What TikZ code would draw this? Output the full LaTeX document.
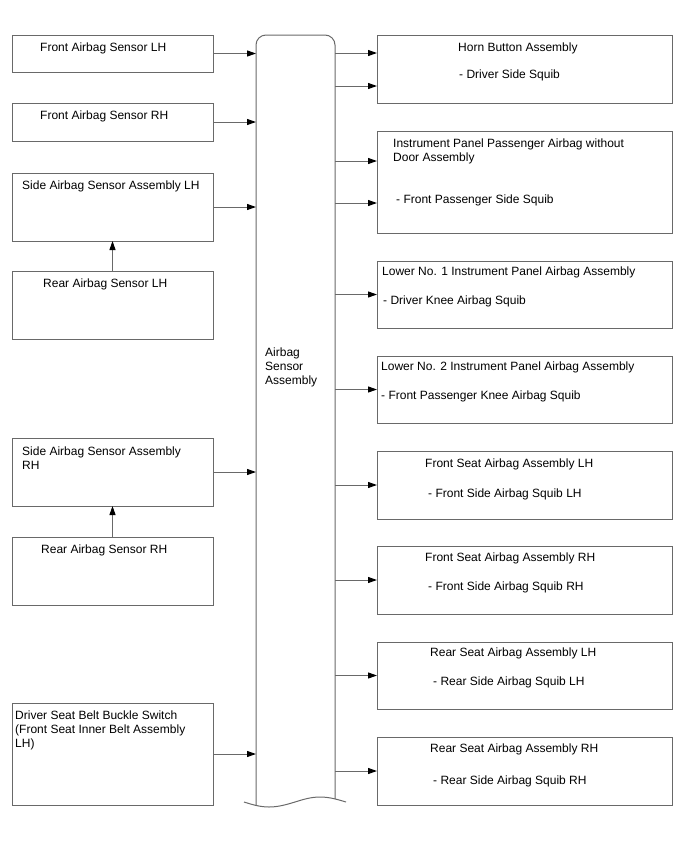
\documentclass[tikz,border=0pt]{standalone}
\usepackage{fontspec}
\setmainfont{Liberation Sans}
\usetikzlibrary{arrows.meta}
\definecolor{ln}{RGB}{105,105,105}
\begin{document}
\begin{tikzpicture}[x=1pt,y=-1pt,
  bx/.style={draw=ln, line width=1pt, rectangle, inner sep=0pt, outer sep=0pt},
  tx/.style={inner sep=0pt, anchor=base west, font=\fontsize{12}{14}\selectfont},
  arr/.style={draw=ln, line width=1pt, -{Triangle[length=9pt,width=6pt,fill=black,color=black]}},
  lbox/.style={bx, minimum width=201pt},
  rbox/.style={bx, minimum width=295pt}]
\fill[white] (0,0) rectangle (688,852);
\useasboundingbox (0,0) rectangle (688,852);

% left boxes
\node[lbox, minimum height=37pt] (falh) at (112.5,53.5) {};
\node[lbox, minimum height=38pt] (farh) at (112.5,122) {};
\node[lbox, minimum height=68pt] (slh) at (112.5,207) {};
\node[lbox, minimum height=68pt] (rlh) at (112.5,305) {};
\node[lbox, minimum height=68pt] (srh) at (112.5,472) {};
\node[lbox, minimum height=68pt] (rrh) at (112.5,571) {};
\node[lbox, minimum height=102pt] (dsb) at (112.5,754) {};

% right boxes
\node[rbox, minimum height=68pt] (horn) at (524.5,69) {};
\node[rbox, minimum height=102pt] (ipp) at (524.5,182) {};
\node[rbox, minimum height=67pt] (lo1) at (524.5,294.5) {};
\node[rbox, minimum height=67pt] (lo2) at (524.5,389.5) {};
\node[rbox, minimum height=68pt] (fsl) at (524.5,485) {};
\node[rbox, minimum height=68pt] (fsr) at (524.5,580) {};
\node[rbox, minimum height=67pt] (rsl) at (524.5,675.5) {};
\node[rbox, minimum height=68pt] (rsr) at (524.5,771) {};

% central assembly
\node[inner sep=0pt, outer sep=0pt, minimum width=79pt, minimum height=770pt] (asa) at (295.5,420) {};
\draw[draw=ln, line width=1pt, rounded corners=10pt] (256,805.4) -- (256,35) -- (335,35) -- (335,798.9);
\draw[draw=ln, line width=1pt] (244,802) sin (269,807) cos (295,802) sin (320,797) cos (346,802);

% texts left
\node[tx] (t1) at (40,51.5) {Front Airbag Sensor LH};
\node[tx] (t2) at (40,119.5) {Front Airbag Sensor RH};
\node[tx] (t3) at (22,189.5) {Side Airbag Sensor Assembly LH};
\node[tx] (t4) at (43,287.5) {Rear Airbag Sensor LH};
\node[tx] (t5a) at (22,455.5) {Side Airbag Sensor Assembly};
\node[tx] (t5b) at (22,469.5) {RH};
\node[tx] (t6) at (41,553.5) {Rear Airbag Sensor RH};
\node[tx] (t7a) at (15,719.5) {Driver Seat Belt Buckle Switch};
\node[tx] (t7b) at (15,733.5) {(Front Seat Inner Belt Assembly};
\node[tx] (t7c) at (15,747.5) {LH)};

% central text
\node[tx] (c1) at (265,356.5) {Airbag};
\node[tx] (c2) at (265,370.5) {Sensor};
\node[tx] (c3) at (265,384.5) {Assembly};

% texts right
\node[tx] (r1a) at (458,51.5) {Horn Button Assembly};
\node[tx] (r1b) at (459,78.5) {- Driver Side Squib};
\node[tx] (r2a) at (393,147.5) {Instrument Panel Passenger Airbag without};
\node[tx] (r2b) at (393,161.5) {Door Assembly};
\node[tx] (r2c) at (396,203.5) {- Front Passenger Side Squib};
\node[tx] (r3a) at (382,275.5) {Lower No. 1 Instrument Panel Airbag Assembly};
\node[tx] (r3b) at (383,304.5) {- Driver Knee Airbag Squib};
\node[tx] (r4a) at (381,370.5) {Lower No. 2 Instrument Panel Airbag Assembly};
\node[tx] (r4b) at (381,399.5) {- Front Passenger Knee Airbag Squib};
\node[tx] (r5a) at (425,467.5) {Front Seat Airbag Assembly LH};
\node[tx] (r5b) at (428,497.5) {- Front Side Airbag Squib LH};
\node[tx] (r6a) at (425,561.5) {Front Seat Airbag Assembly RH};
\node[tx] (r6b) at (428,590.5) {- Front Side Airbag Squib RH};
\node[tx] (r7a) at (430,656.5) {Rear Seat Airbag Assembly LH};
\node[tx] (r7b) at (433,685.5) {- Rear Side Airbag Squib LH};
\node[tx] (r8a) at (430,752.5) {Rear Seat Airbag Assembly RH};
\node[tx] (r8b) at (433,784.5) {- Rear Side Airbag Squib RH};

% left arrows
\draw[arr] (falh.east) -- (falh.east -| asa.west);
\draw[arr] (farh.east) -- (farh.east -| asa.west);
\draw[arr] (slh.east) -- (slh.east -| asa.west);
\draw[arr] (srh.east) -- (srh.east -| asa.west);
\draw[arr] (dsb.east) -- (dsb.east -| asa.west);
\draw[arr] (rlh.north) -- (slh.south);
\draw[arr] (rrh.north) -- (srh.south);

% right arrows
\draw[arr] (asa.east |- 0,53) -- (horn.west |- 0,53);
\draw[arr] (asa.east |- 0,86) -- (horn.west |- 0,86);
\draw[arr] (asa.east |- 0,161) -- (ipp.west |- 0,161);
\draw[arr] (asa.east |- 0,203) -- (ipp.west |- 0,203);
\draw[arr] (asa.east |- lo1.west) -- (lo1.west);
\draw[arr] (asa.east |- lo2.west) -- (lo2.west);
\draw[arr] (asa.east |- fsl.west) -- (fsl.west);
\draw[arr] (asa.east |- fsr.west) -- (fsr.west);
\draw[arr] (asa.east |- rsl.west) -- (rsl.west);
\draw[arr] (asa.east |- rsr.west) -- (rsr.west);
\end{tikzpicture}
\end{document}
